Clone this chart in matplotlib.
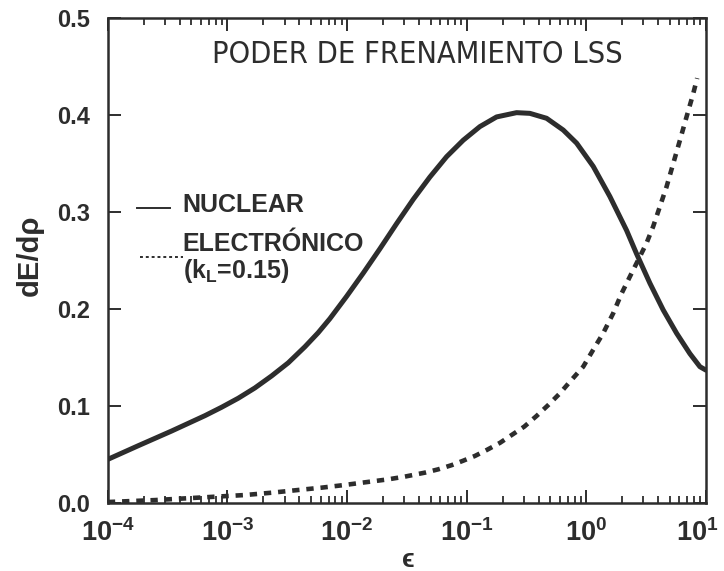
import numpy as np
import matplotlib
matplotlib.use('Agg')
import matplotlib.pyplot as plt
import matplotlib.transforms as mtransforms
from matplotlib.ticker import LogLocator, NullFormatter

# data: log10(epsilon) and dE/drho
log_eps_nuc = [-4.0, -3.747, -3.467, -3.189, -3.049, -2.910, -2.771, -2.631, -2.492,
               -2.353, -2.242, -2.144, -2.004,
               -1.865, -1.726, -1.586, -1.447, -1.308, -1.168, -1.029, -0.890, -0.750,
               -0.583, -0.472, -0.332, -0.193, -0.081, 0.058, 0.197, 0.337, 0.420,
               0.532, 0.643, 0.755, 0.866, 0.950, 1.0]
S_nuc = [0.045, 0.059, 0.0742, 0.090, 0.0987, 0.108, 0.1186, 0.131, 0.1445,
         0.161, 0.1755, 0.190, 0.213,
         0.237, 0.262, 0.288, 0.313, 0.336, 0.357, 0.374, 0.388, 0.398,
         0.4024, 0.4017, 0.3966, 0.3845, 0.371, 0.347, 0.316, 0.281, 0.257,
         0.2265, 0.199, 0.175, 0.154, 0.1405, 0.137]

log_eps_el = [-4.0, -3.607, -3.189, -2.855, -2.631, -2.409, -2.213, -2.018, -1.851,
              -1.656, -1.517, -1.349, -1.238, -1.126, -1.029, -0.931, -0.833, -0.722,
              -0.625, -0.519, -0.416, -0.318, -0.221, -0.137, -0.026, 0.058, 0.141,
              0.225, 0.295, 0.379, 0.448, 0.504, 0.559, 0.615, 0.671, 0.727, 0.783,
              0.838, 0.894, 0.927]
S_el = [0.001, 0.003, 0.0059, 0.0082, 0.0106, 0.0134, 0.0158, 0.0186, 0.0213,
        0.0244, 0.0272, 0.0313, 0.0347, 0.039, 0.0436, 0.0485, 0.0546, 0.062,
        0.070, 0.0787, 0.0897, 0.101, 0.113, 0.125, 0.1405, 0.158, 0.175,
        0.1956, 0.216, 0.237, 0.254, 0.268, 0.285, 0.3055, 0.326, 0.350, 0.374,
        0.398, 0.422, 0.438]

y_ticks = [0.0, 0.1, 0.2, 0.3, 0.4, 0.5]
x_ticks = [1e-4, 1e-3, 1e-2, 1e-1, 1e0, 1e1]
x_ticklabels = [r'$\mathregular{10^{-4}}$', r'$\mathregular{10^{-3}}$',
                r'$\mathregular{10^{-2}}$', r'$\mathregular{10^{-1}}$',
                r'$\mathregular{10^{0}}$', r'$\mathregular{10^{1}}$']

ink = '#2d2d2d'
plt.rcParams['font.family'] = ['Liberation Sans', 'DejaVu Sans']
plt.rcParams['font.weight'] = 'bold'
plt.rcParams['axes.labelweight'] = 'bold'
plt.rcParams['mathtext.default'] = 'regular'

fig = plt.figure(figsize=(7.24, 5.71), dpi=100)
ax = fig.add_axes([0.149, 0.1191, 0.826, 0.8494])

ax.plot(10.0 ** np.array(log_eps_nuc), S_nuc, color=ink, lw=3.6,
        solid_capstyle='round', solid_joinstyle='round')
ax.plot(10.0 ** np.array(log_eps_el), S_el, color=ink, lw=3.3,
        linestyle=(0, (1.6, 1.5)), dash_capstyle='butt')

ax.set_xscale('log')
ax.set_xlim(1e-4, 1e1)
ax.set_ylim(0.0, 0.5)
ax.set_yticks(y_ticks)
ax.set_yticklabels(['%.1f' % v for v in y_ticks])
ax.set_xticks(x_ticks)
ax.set_xticklabels(x_ticklabels)
ax.xaxis.set_minor_locator(LogLocator(base=10, subs=np.arange(2, 10), numticks=20))
ax.xaxis.set_minor_formatter(NullFormatter())

ax.tick_params(axis='both', which='major', direction='in', length=9.5, width=1.4,
               color=ink, labelcolor=ink, labelsize=17, top=True, right=True)
ax.tick_params(axis='y', which='major', pad=13)
ax.tick_params(axis='x', which='major', pad=12, labelsize=19.5)
ax.tick_params(axis='x', which='minor', direction='in', length=5, width=1.3,
               color=ink, top=True, bottom=True)
for s in ax.spines.values():
    s.set_linewidth(1.8)
    s.set_color(ink)

# nudge the last x label so it stays inside the figure
last = ax.get_xticklabels()[-1]
last.set_transform(last.get_transform() +
                   mtransforms.ScaledTranslation(-6 / 72, 0, fig.dpi_scale_trans))

ax.set_xlabel('ϵ', fontsize=19, color=ink)
ax.xaxis.set_label_coords(0.5017, -0.093)
ax.set_ylabel('dE/dρ', fontsize=21, color=ink)
ax.yaxis.set_label_coords(-0.108, 0.511)

ax.text(0.5175, 0.924, 'PODER DE FRENAMIENTO LSS', transform=ax.transAxes,
        ha='center', va='center', fontsize=22, color=ink, fontweight='normal',
        family='DejaVu Sans', fontstretch='condensed')

# legend
ax.plot([0.0485, 0.1037], [0.608, 0.608], transform=ax.transAxes, color=ink, lw=1.4)
ax.text(0.1254, 0.614, 'NUCLEAR', transform=ax.transAxes, ha='left', va='center',
        fontsize=18, color=ink)
ax.plot([0.0535, 0.1254], [0.507, 0.507], transform=ax.transAxes, color=ink, lw=1.4,
        linestyle=(0, (1.5, 1.5)))
ax.text(0.1254, 0.534, 'ELECTRÓNICO', transform=ax.transAxes, ha='left', va='center',
        fontsize=18, color=ink)
ax.text(0.1254, 0.478, r'(k$_\mathregular{L}$=0.15)', transform=ax.transAxes, ha='left',
        va='center', fontsize=18, color=ink)

fig.savefig('out.png', dpi=100)
